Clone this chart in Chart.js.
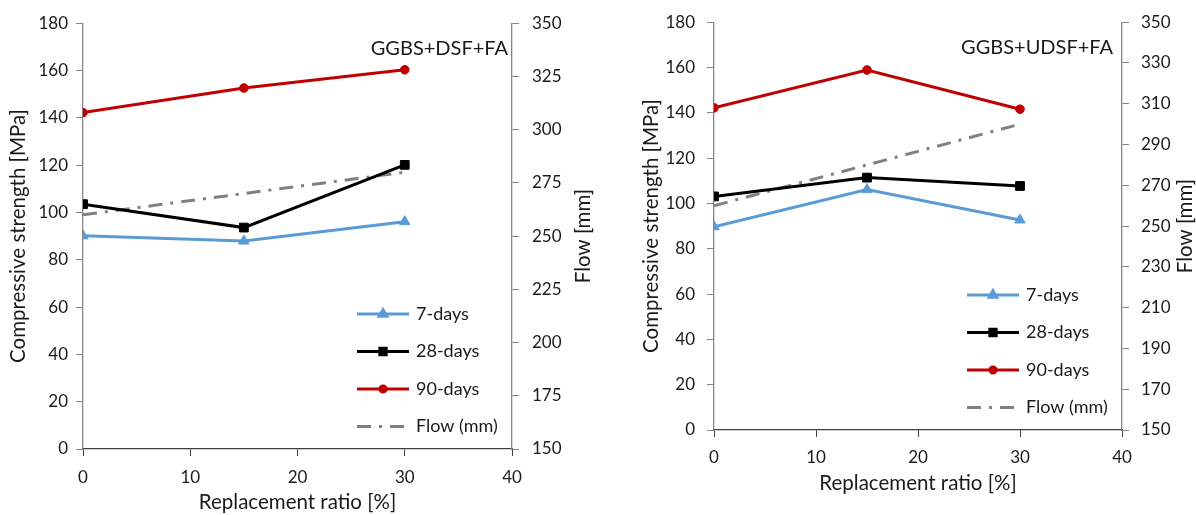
<!DOCTYPE html>
<html>
<head>
<meta charset="utf-8">
<script src="https://cdn.jsdelivr.net/npm/chart.js@4/dist/chart.umd.min.js"></script>
<style>
  html, body { margin: 0; padding: 0; background: #fff; }
  #wrap { position: relative; width: 1196px; height: 515px; overflow: hidden; }
  .panel { position: absolute; top: 0; }
</style>
</head>
<body>
<div id="wrap">
  <div class="panel" style="left:0"><canvas id="chartDSF" width="600" height="515"></canvas></div>
  <div class="panel" style="left:600px"><canvas id="chartUDSF" width="596" height="515"></canvas></div>
</div>
<script>
// replacement ratio [%]
const ratio = [0, 15, 30];

// GGBS+DSF+FA
const dsf7 = [90.1, 87.9, 96.1];
const dsf28 = [103.5, 93.6, 120.1];
const dsf90 = [142.2, 152.6, 160.3];
const dsfFlow = [260, 270, 280];

// GGBS+UDSF+FA
const udsf7 = [89.7, 106.1, 92.7];
const udsf28 = [103.1, 111.4, 107.7];
const udsf90 = [142.2, 158.9, 141.6];
const udsfFlow = [260, 280, 300];

const seriesNames = ["7-days", "28-days", "90-days", "Flow (mm)"];
const xTicks = [0, 10, 20, 30, 40];

const FONT = "Lato, 'Open Sans', sans-serif";
const TEXT = "#1a1a1a";
const AXIS = "#868686";

function toPoints(xs, ys) {
  return xs.map((x, i) => ({ x: x, y: ys[i] }));
}

// legend drawn inside the plot, bottom right
const insideLegend = {
  id: "insideLegend",
  afterDatasetsDraw(chart) {
    const { ctx, chartArea } = chart;
    const x0 = chartArea.right - 155;
    const x1 = chartArea.right - 103;
    chart.data.datasets.forEach((ds, i) => {
      const y = chartArea.bottom - 135 + i * 37.5;
      ctx.save();
      ctx.strokeStyle = ds.borderColor;
      ctx.lineWidth = ds.borderWidth;
      ctx.setLineDash(ds.borderDash || []);
      ctx.beginPath();
      ctx.moveTo(x0, y);
      ctx.lineTo(x1, y);
      ctx.stroke();
      ctx.setLineDash([]);
      if (ds.pointRadius > 0) {
        Chart.helpers.drawPoint(ctx, {
          pointStyle: ds.pointStyle,
          radius: ds.pointRadius * 0.72,
          borderWidth: 1,
          rotation: 0
        }, (x0 + x1) / 2, y);
        ctx.fillStyle = ds.backgroundColor;
        ctx.strokeStyle = ds.borderColor;
        ctx.lineWidth = 1;
        ctx.fill();
        ctx.stroke();
      }
      ctx.fillStyle = TEXT;
      ctx.font = "18px " + FONT;
      ctx.textAlign = "left";
      ctx.textBaseline = "middle";
      ctx.fillText(ds.label, x1 + 7, y);
      ctx.restore();
    });
  }
};

// panel name + right axis title (reads bottom to top)
const panelText = {
  id: "panelText",
  afterDraw(chart, args, opts) {
    const { ctx, chartArea } = chart;
    ctx.save();
    ctx.fillStyle = TEXT;
    ctx.font = "20px " + FONT;
    ctx.textAlign = "right";
    ctx.textBaseline = "middle";
    ctx.fillText(opts.name, chartArea.right - opts.nameInset, chartArea.top + 25);

    ctx.font = "20.5px " + FONT;
    ctx.translate(opts.flowX, (chartArea.top + chartArea.bottom) / 2);
    ctx.rotate(-Math.PI / 2);
    ctx.textAlign = "center";
    ctx.fillText("Flow [mm]", 0, 0);
    ctx.restore();
  }
};

function makeDatasets(s7, s28, s90, flow) {
  return [
    {
      label: seriesNames[0], data: toPoints(ratio, s7), yAxisID: "y",
      borderColor: "#5B9BD5", backgroundColor: "#5B9BD5", borderWidth: 3,
      pointStyle: "triangle", pointRadius: 6, pointBorderWidth: 1
    },
    {
      label: seriesNames[1], data: toPoints(ratio, s28), yAxisID: "y",
      borderColor: "#000000", backgroundColor: "#000000", borderWidth: 3,
      pointStyle: "rect", pointRadius: 6.2, pointBorderWidth: 1
    },
    {
      label: seriesNames[2], data: toPoints(ratio, s90), yAxisID: "y",
      borderColor: "#C00000", backgroundColor: "#C00000", borderWidth: 3,
      pointStyle: "circle", pointRadius: 4.3, pointBorderWidth: 1
    },
    {
      label: seriesNames[3], data: toPoints(ratio, flow), yAxisID: "y1",
      borderColor: "#808080", backgroundColor: "#808080", borderWidth: 3,
      borderDash: [14, 8, 3, 8], pointRadius: 0
    }
  ];
}

function makeChart(id, datasets, lay) {
  const tickFont = { family: FONT, size: 17 };
  const titleFont = { family: FONT, size: 20.5 };
  return new Chart(document.getElementById(id), {
    type: "line",
    data: { datasets: datasets },
    options: {
      responsive: false,
      animation: false,
      devicePixelRatio: 1,
      layout: { padding: { left: 0, right: 0, top: lay.top, bottom: lay.bottom } },
      plugins: {
        legend: { display: false },
        tooltip: { enabled: false },
        panelText: { name: lay.name, nameInset: lay.nameInset, flowX: lay.flowX }
      },
      scales: {
        x: {
          type: "linear", min: 0, max: 40,
          afterBuildTicks: (s) => { s.ticks = xTicks.map((v) => ({ value: v })); },
          afterFit: (s) => { s.height = 66; },
          grid: { drawOnChartArea: false, drawTicks: true, tickLength: 7, color: "#404040" },
          border: { color: "#404040", width: 1.3 },
          ticks: { font: tickFont, color: TEXT, padding: lay.xPad, maxRotation: 0 },
          title: { display: true, text: "Replacement ratio [%]", font: titleFont, color: TEXT, padding: { top: 0, bottom: 0 } }
        },
        y: {
          position: "left", min: 0, max: 180,
          afterFit: (s) => { s.width = lay.yWidth; },
          grid: { drawOnChartArea: false, drawTicks: true, tickLength: 7, color: AXIS },
          border: { color: AXIS, width: 1.3 },
          ticks: { stepSize: 20, font: tickFont, color: TEXT, padding: lay.yPad },
          title: { display: true, text: "Compressive strength [MPa]", font: titleFont, color: TEXT, padding: { top: lay.yTitlePad, bottom: 0 } }
        },
        y1: {
          position: "right", min: 150, max: 350,
          afterFit: (s) => { s.width = lay.y1Width; },
          grid: { drawOnChartArea: false, drawTicks: true, tickLength: 7, color: AXIS },
          border: { color: AXIS, width: 1.3 },
          ticks: { stepSize: lay.flowStep, font: tickFont, color: TEXT, padding: lay.y1Pad }
        }
      }
    },
    plugins: [insideLegend, panelText]
  });
}

makeChart("chartDSF", makeDatasets(dsf7, dsf28, dsf90, dsfFlow), {
  top: 17, bottom: 0, xPad: 11, yWidth: 83, yPad: 8, yTitlePad: 6,
  y1Width: 88, y1Pad: 13, flowStep: 25, flowX: 583,
  name: "GGBS+DSF+FA", nameInset: 4
});

makeChart("chartUDSF", makeDatasets(udsf7, udsf28, udsf90, udsfFlow), {
  top: 19, bottom: 19, xPad: 10, yWidth: 114, yPad: 12, yTitlePad: 39,
  y1Width: 74, y1Pad: 12, flowStep: 20, flowX: 585,
  name: "GGBS+UDSF+FA", nameInset: 9
});
</script>
</body>
</html>
